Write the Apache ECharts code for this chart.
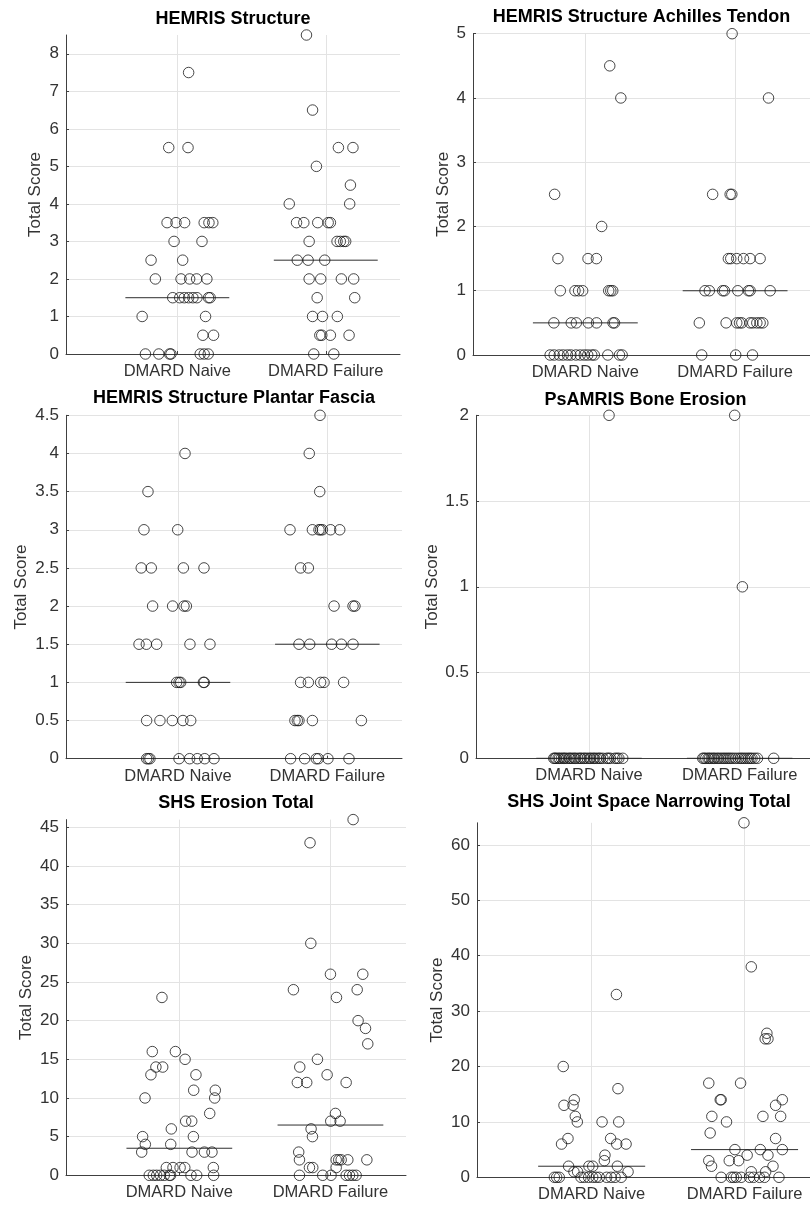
<!DOCTYPE html>
<html>
<head>
<meta charset="utf-8">
<script src="https://cdn.jsdelivr.net/npm/echarts@6/dist/echarts.min.js"></script>
<style>html,body{margin:0;padding:0;background:#fff}#c{width:810px;height:1205px}</style>
</head>
<body>
<div id="c"></div>
<script>
// ---------- DATA ----------
const categories = ['DMARD Naive', 'DMARD Failure'];
const yAxisName = 'Total Score';
const titles = ['HEMRIS Structure', 'HEMRIS Structure Achilles Tendon', 'HEMRIS Structure Plantar Fascia',
  'PsAMRIS Bone Erosion', 'SHS Erosion Total', 'SHS Joint Space Narrowing Total'];

// rows: [score, [horizontal jitter of each point within the group]]
const hemrisNaive = [
  [7.5, [0.076]], [5.5, [-0.058, 0.072]], [3.5, [-0.069, -0.009, 0.049, 0.181, 0.213, 0.239]],
  [3.0, [-0.022, 0.166]], [2.5, [-0.177, 0.036]], [2.0, [-0.148, 0.025, 0.083, 0.130, 0.199]],
  [1.5, [-0.031, 0.016, 0.047, 0.076, 0.105, 0.132, 0.210, 0.221]], [1.0, [-0.237, 0.190]],
  [0.5, [0.172, 0.244]], [0, [-0.215, -0.125, -0.052, -0.043, 0.154, 0.181, 0.208]]
];
const hemrisFailure = [
  [8.5, [-0.130]], [6.5, [-0.089]], [5.5, [0.085, 0.183]], [5.0, [-0.063]], [4.5, [0.166]],
  [4.0, [-0.246, 0.161]], [3.5, [-0.197, -0.148, -0.054, 0.016, 0.031]],
  [3.0, [-0.112, 0.076, 0.098, 0.121, 0.134]], [2.5, [-0.192, -0.119, -0.007]],
  [2.0, [-0.112, -0.034, 0.105, 0.188]], [1.5, [-0.058, 0.195]], [1.0, [-0.089, -0.022, 0.078]],
  [0.5, [-0.040, -0.027, 0.031, 0.157]], [0, [-0.081, 0.054]]
];
const achillesNaive = [
  [4.5, [0.163]], [4.0, [0.237]], [2.5, [-0.205]], [2.0, [0.109]], [1.5, [-0.183, 0.018, 0.074]],
  [1.0, [-0.167, -0.069, -0.045, -0.018, 0.156, 0.170, 0.183]],
  [0.5, [-0.210, -0.094, -0.060, 0.020, 0.075, 0.185, 0.195]],
  [0, [-0.235, -0.208, -0.174, -0.148, -0.119, -0.096, -0.063, -0.034, -0.007, 0.016, 0.043, 0.060, 0.150, 0.228, 0.246]]
];
const achillesFailure = [
  [5.0, [-0.020]], [4.0, [0.223]], [2.5, [-0.150, -0.033, -0.022]],
  [1.5, [-0.045, -0.029, 0.011, 0.056, 0.100, 0.167]],
  [1.0, [-0.201, -0.172, -0.083, -0.071, 0.018, 0.089, 0.100, 0.234]],
  [0.5, [-0.239, -0.060, 0.011, 0.029, 0.045, 0.100, 0.118, 0.145, 0.167, 0.185]],
  [0, [-0.223, 0.004, 0.116]]
];
const plantarNaive = [
  [4.0, [0.047]], [3.5, [-0.201]], [3.0, [-0.228, -0.002]], [2.5, [-0.246, -0.179, 0.036, 0.174]],
  [2.0, [-0.170, -0.036, 0.040, 0.056]], [1.5, [-0.261, -0.212, -0.143, 0.080, 0.214]],
  [1.0, [-0.009, 0.007, 0.018, 0.170, 0.176]], [0.5, [-0.210, -0.121, -0.038, 0.033, 0.085]],
  [0, [-0.210, -0.199, -0.188, 0.007, 0.078, 0.129, 0.179, 0.241]]
];
const plantarFailure = [
  [4.5, [-0.049]], [4.0, [-0.121]], [3.5, [-0.051]],
  [3.0, [-0.250, -0.100, -0.056, -0.045, -0.033, 0.022, 0.083]], [2.5, [-0.179, -0.127]],
  [2.0, [0.045, 0.172, 0.185]], [1.5, [-0.190, -0.118, 0.029, 0.094, 0.172]],
  [1.0, [-0.179, -0.127, -0.045, -0.022, 0.109]], [0.5, [-0.217, -0.201, -0.190, -0.100, 0.228]],
  [0, [-0.246, -0.152, -0.074, -0.060, 0.004, 0.145]]
];
const boneNaive = [
  [2.0, [0.133]],
  [0, [-0.234, -0.226, -0.219, -0.205, -0.196, -0.183, -0.170, -0.162, -0.150, -0.133, -0.125, -0.112,
       -0.098, -0.090, -0.074, -0.060, -0.052, -0.036, -0.027, -0.012, 0.003, 0.012, 0.028, 0.037,
       0.051, 0.066, 0.075, 0.092, 0.118, 0.129, 0.142, 0.171, 0.185, 0.198, 0.224]]
];
const boneFailure = [
  [2.0, [-0.033]], [1.0, [0.018]],
  [0, [-0.245, -0.236, -0.225, -0.210, -0.201, -0.188, -0.175, -0.166, -0.150, -0.139, -0.124, -0.110,
       -0.098, -0.085, -0.072, -0.060, -0.045, -0.028, -0.010, 0.005, 0.016, 0.030, 0.044, 0.058,
       0.070, 0.082, 0.100, 0.118, 0.226]]
];
const erosionNaive = [
  [23, [-0.115]], [16, [-0.179, -0.026]], [15, [0.038]], [14, [-0.155, -0.110]], [13, [-0.188, 0.110]],
  [11, [0.095, 0.238]], [10, [-0.227, 0.234]], [8, [0.201]], [7, [0.042, 0.082]], [6, [-0.053]],
  [5, [-0.243, 0.093]], [4, [-0.225, -0.057]], [3, [-0.249, 0.084, 0.166, 0.216]],
  [1, [-0.086, -0.042, 0.005, 0.036, 0.225]],
  [0, [-0.199, -0.172, -0.150, -0.125, -0.100, -0.066, -0.058, 0.077, 0.115, 0.227]]
];
const erosionFailure = [
  [46, [0.150]], [43, [-0.135]], [30, [-0.130]], [26, [0.000, 0.214]], [24, [-0.245, 0.177]],
  [23, [0.040]], [20, [0.183]], [19, [0.232]], [17, [0.247]], [15, [-0.086]], [14, [-0.203]],
  [13, [-0.022]], [12, [-0.219, -0.157, 0.104]], [8, [0.033]], [7, [0.002, 0.064]], [6, [-0.128]],
  [5, [-0.119]], [3, [-0.210]], [2, [-0.205, 0.038, 0.055, 0.071, 0.115, 0.241]],
  [1, [-0.139, -0.117, 0.038]], [0, [-0.205, -0.051, 0.004, 0.104, 0.126, 0.148, 0.170]]
];
const jsnNaive = [
  [33, [0.162]], [20, [-0.186]], [16, [0.172]], [14, [-0.114]], [13, [-0.181, -0.122]], [11, [-0.107]],
  [10, [-0.094, 0.068, 0.177]], [7, [-0.155, 0.124]], [6, [-0.197, 0.164, 0.225]], [4, [0.087]],
  [3, [0.083]], [2, [-0.151, -0.018, 0.007, 0.168]], [1, [-0.116, -0.092, 0.238]],
  [0, [-0.244, -0.229, -0.212, -0.070, -0.048, -0.020, 0.007, 0.029, 0.050, 0.098, 0.127, 0.153, 0.193]]
];
const jsnFailure = [
  [64, [-0.004]], [38, [0.044]], [26, [0.146]], [25, [0.135, 0.153]], [17, [-0.234, -0.026]],
  [14, [-0.159, -0.153, 0.247]], [13, [0.203]], [11, [-0.214, 0.120, 0.236]], [10, [-0.118]],
  [8, [-0.225]], [7, [0.203]], [5, [-0.063, 0.103, 0.247]], [4, [0.017, 0.153]],
  [3, [-0.234, -0.100, -0.039]], [2, [-0.216, 0.186]], [1, [0.044, 0.138]],
  [0, [-0.153, -0.087, -0.072, -0.054, -0.022, 0.033, 0.059, 0.098, 0.131, 0.225]]
];

const medians = [[1.5, 2.5], [0.5, 1], [1, 1.5], [0, 0], [3.5, 6.5], [2, 5]];
const yMax = [8.5, 5, 4.5, 2, 46, 64];
const yTicks = [
  [0, 1, 2, 3, 4, 5, 6, 7, 8],
  [0, 1, 2, 3, 4, 5],
  [0, 0.5, 1, 1.5, 2, 2.5, 3, 3.5, 4, 4.5],
  [0, 0.5, 1, 1.5, 2],
  [0, 5, 10, 15, 20, 25, 30, 35, 40, 45],
  [0, 10, 20, 30, 40, 50, 60]
];
const groups = [
  [hemrisNaive, hemrisFailure], [achillesNaive, achillesFailure], [plantarNaive, plantarFailure],
  [boneNaive, boneFailure], [erosionNaive, erosionFailure], [jsnNaive, jsnFailure]
];

// ---------- LAYOUT / STYLE ----------
const layout = [
  {left: 66, top: 35, width: 334, height: 319, nameGap: 22, titleY: 19},
  {left: 473, top: 33.7, width: 337, height: 321.3, nameGap: 21, titleY: 17},
  {left: 66, top: 415.3, width: 336, height: 343.4, nameGap: 36, titleY: 398},
  {left: 476, top: 415.3, width: 339, height: 343, nameGap: 35, titleY: 400},
  {left: 66, top: 819.6, width: 340, height: 355.7, nameGap: 31, titleY: 803},
  {left: 477, top: 822.8, width: 344, height: 354.5, nameGap: 31, titleY: 802}
];
const FONT = '"Liberation Sans", Arial, Helvetica, sans-serif';
const textCol = '#333333';
const axisCol = '#404040';
const gridCol = '#e3e3e3';
const halfMedian = 0.35;

const grids = [], xAxes = [], yAxes = [], series = [], graphics = [];
layout.forEach((L, i) => {
  grids.push({left: L.left, top: L.top, width: L.width, height: L.height, containLabel: false, outerBoundsMode: 'none'});
  xAxes.push({
    type: 'value', gridIndex: i, min: 0.25, max: 2.5,
    axisLine: {show: true, onZero: false, lineStyle: {color: axisCol, width: 1}},
    axisTick: {show: true, inside: true, length: 3, customValues: [1, 2], lineStyle: {color: axisCol}},
    axisLabel: {customValues: [1, 2], margin: 9, fontSize: 16.5, fontFamily: FONT, color: textCol,
      formatter: v => categories[Math.round(v) - 1]},
    splitLine: {show: true, lineStyle: {color: gridCol, width: 1}}
  });
  yAxes.push({
    type: 'value', gridIndex: i, min: 0, max: yMax[i],
    name: yAxisName, nameLocation: 'middle', nameGap: L.nameGap,
    nameTextStyle: {fontSize: 17, fontFamily: FONT, color: textCol},
    axisLine: {show: true, lineStyle: {color: axisCol, width: 1}},
    axisTick: {show: true, inside: true, length: 3, customValues: yTicks[i], lineStyle: {color: axisCol}},
    axisLabel: {customValues: yTicks[i], margin: 7, fontSize: 17, fontFamily: FONT, color: textCol},
    splitLine: {show: true, lineStyle: {color: gridCol, width: 1}}
  });
  groups[i].forEach((rows, g) => {
    const center = g + 1;
    const pts = [];
    rows.forEach(([v, offs]) => offs.forEach(o => pts.push([center + o, v])));
    series.push({
      type: 'scatter', xAxisIndex: i, yAxisIndex: i, data: pts, symbol: 'circle', symbolSize: 10.5,
      itemStyle: {color: 'rgba(0,0,0,0)', borderColor: '#1a1a1a', borderWidth: 1},
      silent: true, z: 3, clip: false
    });
    const m = medians[i][g];
    series.push({
      type: 'line', xAxisIndex: i, yAxisIndex: i, data: [[center - halfMedian, m], [center + halfMedian, m]],
      symbol: 'none', lineStyle: {color: '#2e2e2e', width: 1}, silent: true, z: 2
    });
  });
  graphics.push({
    type: 'text', x: L.left + L.width / 2, y: L.titleY,
    style: {text: titles[i], font: 'bold 18px ' + FONT, fill: '#000', textAlign: 'center', textVerticalAlign: 'middle'}
  });
});

const chart = echarts.init(document.getElementById('c'), null, {renderer: 'canvas'});
chart.setOption({
  animation: false,
  backgroundColor: '#fff',
  grid: grids, xAxis: xAxes, yAxis: yAxes, series: series, graphic: graphics
});
</script>
</body>
</html>
